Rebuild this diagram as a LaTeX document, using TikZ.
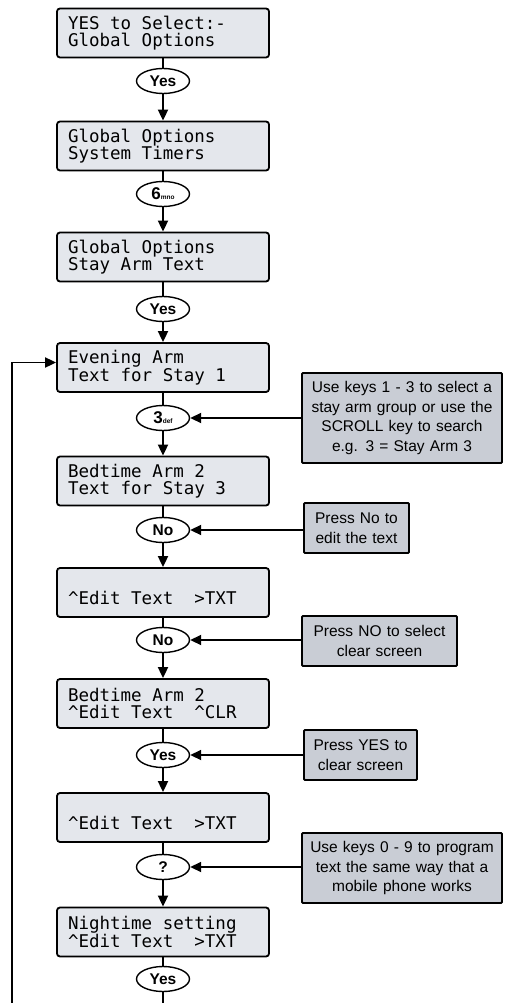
\documentclass[tikz,border=0pt]{standalone}
\usepackage{fontspec}
\setmainfont{Liberation Sans}
\newfontfamily\lcdfont{DejaVu Sans Mono}
\newcommand\lsp{\hspace*{0.602em}}
\usetikzlibrary{arrows.meta,shapes.geometric}
\definecolor{lcdfill}{RGB}{228,231,236}
\definecolor{notefill}{RGB}{201,205,213}
\begin{document}
\begin{tikzpicture}[x=1pt,y=-1pt,
  lcd/.style={draw=black, line width=1.8pt, rounded corners=3pt, fill=lcdfill,
    minimum width=212pt, minimum height=49pt, inner sep=0pt, text width=190pt,
    align=left, font=\lcdfont\fontsize{17.5}{17.5}\selectfont},
  key/.style={draw=black, line width=1.4pt, fill=white, ellipse,
    minimum width=53pt, minimum height=25pt, inner sep=0pt,
    font=\bfseries\fontsize{15.5}{15.5}\selectfont},
  note/.style={draw=black, line width=1.8pt, fill=notefill, rounded corners=1pt,
    align=center, inner sep=0pt, font=\fontsize{15.5}{19.5}\selectfont},
  link/.style={line width=1.8pt},
  flow/.style={line width=1.8pt, -{Triangle[length=11pt,width=10pt]}},
  ]
\useasboundingbox (0,0) rectangle (504,1003);

% LCD boxes
\node[lcd] (b1) at (163,33) {YES\lsp to\lsp Select:-\\Global\lsp Options};
\node[lcd] (b2) at (163,146) {Global\lsp Options\\System\lsp Timers};
\node[lcd] (b3) at (163,257) {Global\lsp Options\\Stay\lsp Arm\lsp Text};
\node[lcd] (b4) at (163,367.5) {Evening\lsp Arm\\Text\lsp for\lsp Stay\lsp 1};
\node[lcd] (b5) at (163,481) {Bedtime\lsp Arm\lsp 2\\Text\lsp for\lsp Stay\lsp 3};
\node[lcd] (b6) at (163,592.5) {\rule{0pt}{7pt}\\\textasciicircum Edit\lsp Text\lsp\lsp >TXT};
\node[lcd] (b7) at (163,703.5) {Bedtime\lsp Arm\lsp 2\\\textasciicircum Edit\lsp Text\lsp\lsp \textasciicircum CLR};
\node[lcd] (b8) at (163,817.5) {\rule{0pt}{7pt}\\\textasciicircum Edit\lsp Text\lsp\lsp >TXT};
\node[lcd] (b9) at (163,932) {Nightime\lsp setting\\\textasciicircum Edit\lsp Text\lsp\lsp >TXT};

% keys
\node[key] (k1) at (163,81) {Yes};
\node[key] (k2) at (163,194) {\fontsize{17}{17}\selectfont 6{\fontsize{6.5}{6.5}\selectfont mno}};
\node[key] (k3) at (163,309) {Yes};
\node[key] (k4) at (163,418) {\fontsize{17}{17}\selectfont 3{\fontsize{6.5}{6.5}\selectfont def}};
\node[key] (k5) at (163,530) {No};
\node[key] (k6) at (163,640) {No};
\node[key] (k7) at (163,755) {Yes};
\node[key] (k8) at (163,867) {?};
\node[key] (k9) at (163,979) {Yes};

% notes
\node[note, minimum width=200pt, minimum height=90pt, text width=194pt] (n1) at (402,418)
  {Use keys 1 - 3 to select a\\stay arm group or use the\\SCROLL key to search\\e.g. 3 = Stay Arm 3};
\node[note, minimum width=105pt, minimum height=50pt, text width=100pt] (n2) at (356.5,528)
  {Press No to\\edit the text};
\node[note, minimum width=155pt, minimum height=50pt, text width=150pt] (n3) at (379.5,641)
  {Press NO to select\\clear screen};
\node[note, minimum width=113pt, minimum height=50pt, text width=108pt] (n4) at (360.5,755)
  {Press YES to\\clear screen};
\node[note, minimum width=200pt, minimum height=70pt, text width=194pt] (n5) at (402,868)
  {Use keys 0 - 9 to program\\text the same way that a\\mobile phone works};

% main flow
\draw[link] (b1) -- (k1); \draw[flow] (k1) -- (b2);
\draw[link] (b2) -- (k2); \draw[flow] (k2) -- (b3);
\draw[link] (b3) -- (k3); \draw[flow] (k3) -- (b4);
\draw[link] (b4) -- (k4); \draw[flow] (k4) -- (b5);
\draw[link] (b5) -- (k5); \draw[flow] (k5) -- (b6);
\draw[link] (b6) -- (k6); \draw[flow] (k6) -- (b7);
\draw[link] (b7) -- (k7); \draw[flow] (k7) -- (b8);
\draw[link] (b8) -- (k8); \draw[flow] (k8) -- (b9);
\draw[link] (b9) -- (k9);
\coordinate (bot) at (163,1003);
\draw[link] (k9) -- (bot);

% notes to keys
\draw[flow] (k4.east -| n1.west) -- (k4.east);
\draw[flow] (k5.east -| n2.west) -- (k5.east);
\draw[flow] (k6.east -| n3.west) -- (k6.east);
\draw[flow] (k7.east -| n4.west) -- (k7.east);
\draw[flow] (k8.east -| n5.west) -- (k8.east);

% loop back
\coordinate (lb) at (12,1003);
\draw[flow] (lb) |- ([yshift=5pt]b4.west);
\end{tikzpicture}
\end{document}
